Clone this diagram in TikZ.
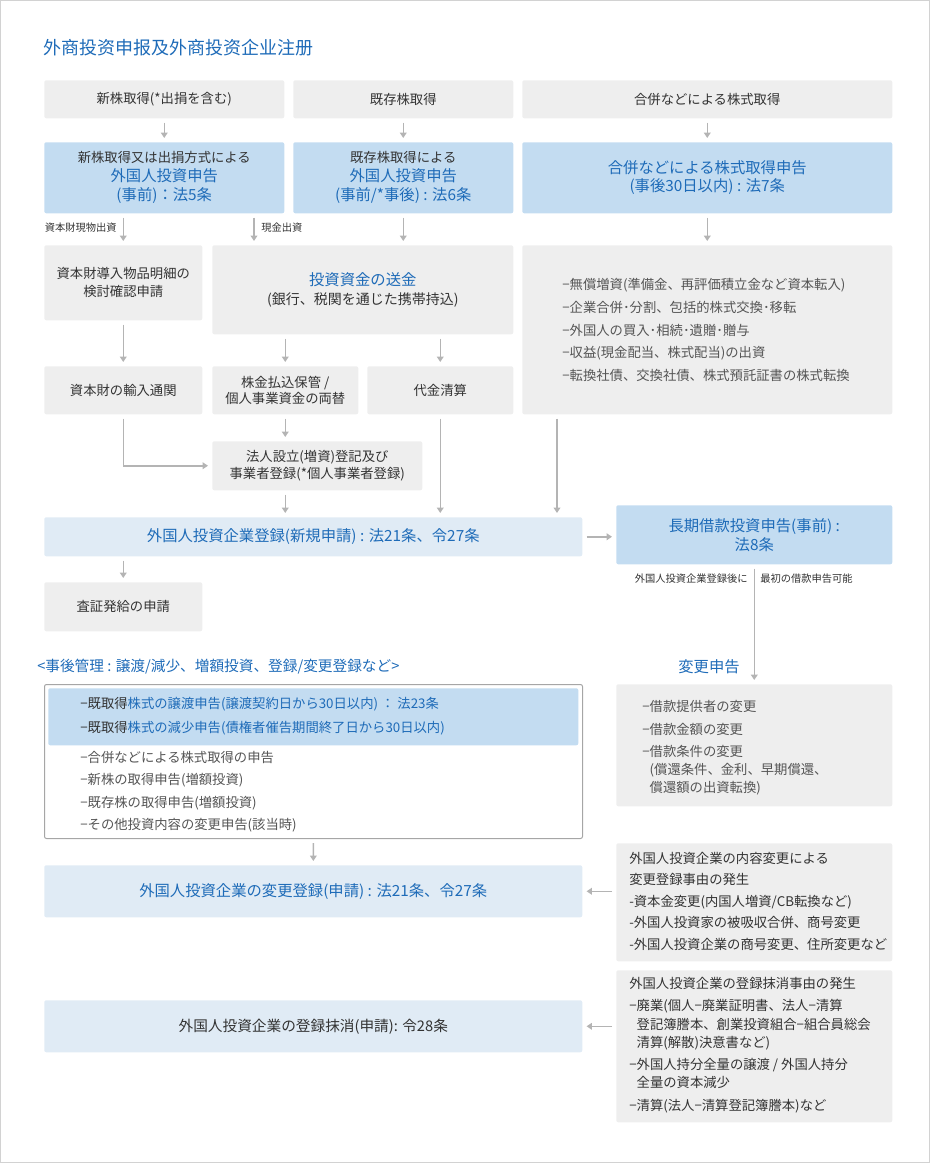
\documentclass[tikz,border=0pt]{standalone}
\usepackage{fontspec}
\setmainfont{Noto Sans CJK JP}
\newfontfamily\zhfont{Noto Sans CJK SC}
\usepackage{xcolor}
\usepackage{tikz}
\usetikzlibrary{positioning}
\usetikzlibrary{calc,arrows.meta}

\definecolor{jblue}{HTML}{1E6BB8}
\definecolor{boxgray}{HTML}{EEEEEE}
\definecolor{boxblue}{HTML}{C3DCF1}
\definecolor{boxpale}{HTML}{E0EBF5}
\definecolor{arrgray}{HTML}{B4B4B4}
\definecolor{txtdark}{HTML}{333333}
\definecolor{txtgray}{HTML}{555555}
\definecolor{framegray}{HTML}{D2D2D2}

\tikzset{
	box/.style={anchor=north west, inner sep=0pt, rounded corners=2\px, align=center,
		text=txtdark, font=\fontsize{10}{17.5}\selectfont},
	wh/.style 2 args={minimum width=#1\px, minimum height=#2\px},
	graybox/.style={box, fill=boxgray},
	bluebox/.style={box, fill=boxblue},
	palebox/.style={box, fill=boxpale},
	listtext/.style={anchor=west, align=left, inner sep=0pt, text=txtgray},
	tinylabel/.style={inner sep=0pt, text=txtdark, font=\fontsize{7.7}{9}\selectfont},
	arr/.style={draw=arrgray, line width=1.1pt, -{Triangle[width=5pt,length=4pt]},
		shorten <=4\px, shorten >=4\px},
}

\begin{document}
\begin{tikzpicture}[x=0.75pt, y=-0.75pt]

\newlength{\px}\setlength{\px}{0.75pt}

	% Proper size --- Bounding box
	\useasboundingbox (0,0) rectangle (930,1163);
	\draw[framegray, line width=0.75pt] (0.5,0.5) rectangle (929.5,1162.5);

	% Title
	\node[anchor=west, inner sep=0pt, text=jblue, font=\zhfont\fontsize{13.5}{16}\selectfont]
		(title) at (43,48) {外商投资申报及外商投资企业注册};

	% ------------------------------------------------
	% ROW 1 : HOW THE SHARES ARE TAKEN
	% ------------------------------------------------
	\node[graybox, wh={240}{38}] (newshare) at (44,80) {新株取得(*出捐を含む)};
	\node[graybox, wh={220}{38}] (oldshare) at (293,80) {既存株取得};
	\node[graybox, wh={370}{38}] (merger) at (522,80) {合併などによる株式取得};

	% ROW 2 : REPORTS
	\node[bluebox, wh={240}{71}, font=\fontsize{11.5}{14.25}\selectfont] (newreport) at (44,142)
		{{\fontsize{10}{14.25}\selectfont 新株取得又は出捐方式による}\\
		 \textcolor{jblue}{外国人投資申告}\\
		 \textcolor{jblue}{(事前)：法5条}};
	\node[bluebox, wh={220}{71}, font=\fontsize{11.5}{14.25}\selectfont] (oldreport) at (293,142)
		{{\fontsize{10}{14.25}\selectfont 既存株取得による}\\
		 \textcolor{jblue}{外国人投資申告}\\
		 \textcolor{jblue}{(事前/*事後) : 法6条}};
	\node[bluebox, wh={370}{71}, text=jblue, font=\fontsize{11.5}{13.5}\selectfont] (mergerreport) at (522,142)
		{合併などによる株式取得申告\\(事後30日以内) : 法7条};

	% ROW 3
	\node[graybox, wh={158}{75}, font=\fontsize{10}{13.5}\selectfont] (goodscheck) at (44,245)
		{資本財導入物品明細の\\検討確認申請};
	\node[graybox, wh={301}{89}, font=\fontsize{10.5}{14.25}\selectfont] (remit) at (212,245)
		{\textcolor{jblue}{\fontsize{11.5}{14.25}\selectfont 投資資金の送金}\\(銀行、税関を通じた携帯持込)};
	\node[graybox, wh={370}{169}] (mergerbox) at (522,245) {};
	\node[listtext, font=\fontsize{10}{16.9}\selectfont] (mergerlist) at (562,330)
		{−無償増資(準備金、再評価積立金など資本転入)\\
		 −企業合併･分割、包括的株式交換･移転\\
		 −外国人の買入･相続･遺贈･贈与\\
		 −収益(現金配当、株式配当)の出資\\
		 −転換社債、交換社債、株式預託証書の株式転換};

	% ROW 4
	\node[graybox, wh={158}{48}] (customs) at (44,366) {資本財の輸入通関};
	\node[graybox, wh={146}{48}, font=\fontsize{10}{12}\selectfont] (deposit) at (212,366)
		{株金払込保管 /\\個人事業資金の両替};
	\node[graybox, wh={146}{48}] (settle) at (367,366) {代金清算};

	\node[graybox, wh={210}{49}, font=\fontsize{10}{12.75}\selectfont] (corpreg) at (212,441)
		{法人設立(増資)登記及び\\事業者登録(*個人事業者登録)};

	% REGISTRATION
	\node[palebox, wh={538}{39}, text=jblue, font=\fontsize{11.5}{14}\selectfont] (firmreg) at (44,517)
		{外国人投資企業登録(新規申請) : 法21条、令27条};
	\node[bluebox, wh={276}{59}, text=jblue, font=\fontsize{11.5}{14.25}\selectfont] (loanreport) at (616,505)
		{長期借款投資申告(事前) :\\法8条};
	\node[graybox, wh={158}{49}] (visa) at (44,582) {査証発給の申請};

	% helper points for connectors that do not sit on a centre
	\coordinate (cash) at (254,0);
	\coordinate (mergerdrop) at (557,0);

	% Arrows
	\draw[arr] (newshare) -- (newreport);
	\draw[arr] (oldshare) -- (oldreport);
	\draw[arr] (merger) -- (mergerreport);
	\draw[arr] (newreport.south -| goodscheck) -- (goodscheck);
	\draw[arr] (newreport.south -| cash) -- (remit.north -| cash);
	\draw[arr] (oldreport) -- (remit.north -| oldreport);
	\draw[arr] (mergerreport) -- (mergerbox);
	\draw[arr] (goodscheck) -- (customs);
	\draw[arr] (remit.south -| deposit) -- (deposit);
	\draw[arr] (remit.south -| settle) -- (settle);
	\draw[arr] (deposit) -- (deposit |- corpreg.north);
	\draw[arr] (customs) |- (corpreg);
	\draw[arr] (corpreg.south -| deposit) -- (firmreg.north -| deposit);
	\draw[arr] (settle) -- (settle |- firmreg.north);
	\draw[arr] (mergerbox.south -| mergerdrop) -- (firmreg.north -| mergerdrop);
	\draw[arr] (firmreg.east) -- (firmreg.east -| loanreport.west);
	\draw[arr] (firmreg.south -| visa) -- (visa);

	\node[tinylabel, anchor=east] (inkind) at (117,228) {資本財現物出資};
	\node[tinylabel, anchor=west] (incash) at (261,228) {現金出資};

	% ------------------------------------------------
	% AFTER REGISTRATION
	% ------------------------------------------------
	\node[anchor=west, inner sep=0pt, text=jblue, font=\fontsize{11}{13}\selectfont] (aftercare) at (37,667)
		{<事後管理 : 譲渡/減少、増額投資、登録/変更登録など>};
	\node[inner sep=0pt, text=jblue, font=\fontsize{11.5}{13}\selectfont] (changehead) at (709,667) {変更申告};

	\node[graybox, wh={276}{122}] (loanchange) at (616,684) {};
	\node[listtext, font=\fontsize{10}{13.5}\selectfont] (loanlist) at (642,748)
		{−借款提供者の変更\\[3.4pt]
		 −借款金額の変更\\[3.4pt]
		 −借款条件の変更\\
		 \phantom{−}(償還条件、金利、早期償還、\\
		 \phantom{−}償還額の出資転換)};
	\draw[arr] (loanreport.south -| loanchange) -- (loanchange);
	\node[tinylabel, anchor=east] (loanleft) at (748,579) {外国人投資企業登録後に};
	\node[tinylabel, anchor=west] (loanright) at (760,579) {最初の借款申告可能};

	\node[box, wh={538}{154}, fill=white, draw=black!35, line width=0.75pt] (postbox) at (44,684) {};
	\node[bluebox, wh={530}{57}] (postband) at (48,688) {};
	\node[listtext, text=jblue, font=\fontsize{10}{18}\selectfont] (bandlist) at (80,716.5)
		{\textcolor{txtdark}{−既取得}株式の譲渡申告(譲渡契約日から30日以内) ： 法23条\\
		 \textcolor{txtdark}{−既取得}株式の減少申告(債権者催告期間終了日から30日以内)};
	\node[listtext, font=\fontsize{10}{16.9}\selectfont] (postlist) at (80,791.5)
		{−合併などによる株式取得の申告\\
		 −新株の取得申告(増額投資)\\
		 −既存株の取得申告(増額投資)\\
		 −その他投資内容の変更申告(該当時)};

	\node[palebox, wh={538}{52}, text=jblue, font=\fontsize{11.5}{14}\selectfont] (changereg) at (44,865)
		{外国人投資企業の変更登録(申請) : 法21条、令27条};
	\node[palebox, wh={538}{52}, font=\fontsize{11}{14}\selectfont] (cancelreg) at (44,1000)
		{外国人投資企業の登録抹消(申請): 令28条};

	\node[graybox, wh={276}{118}] (changecause) at (616,843) {};
	\node[listtext, text=txtdark, font=\fontsize{10}{16.1}\selectfont] (changetext) at (629,901)
		{外国人投資企業の内容変更による\\
		 変更登録事由の発生\\
		 -資本金変更(内国人増資/CB転換など)\\
		 -外国人投資家の被吸収合併、商号変更\\
		 -外国人投資企業の商号変更、住所変更など};

	\node[graybox, wh={276}{152}] (cancelcause) at (616,970) {};
	\node[listtext, text=txtdark, font=\fontsize{10}{13.7}\selectfont] (canceltext) at (629,1045)
		{外国人投資企業の登録抹消事由の発生\\[3pt]
		 −廃業(個人−廃業証明書、法人−清算\\
		 \phantom{−}登記簿謄本、創業投資組合−組合員総会\\
		 \phantom{−}清算(解散)決意書など)\\[3pt]
		 −外国人持分全量の譲渡 / 外国人持分\\
		 \phantom{−}全量の資本減少\\[3pt]
		 −清算(法人−清算登記簿謄本)など};

	\draw[arr] (postbox) -- (changereg);
	\draw[arr] (changecause.west |- changereg) -- (changereg);
	\draw[arr] (cancelcause.west |- cancelreg) -- (cancelreg);

\end{tikzpicture}
\end{document}
